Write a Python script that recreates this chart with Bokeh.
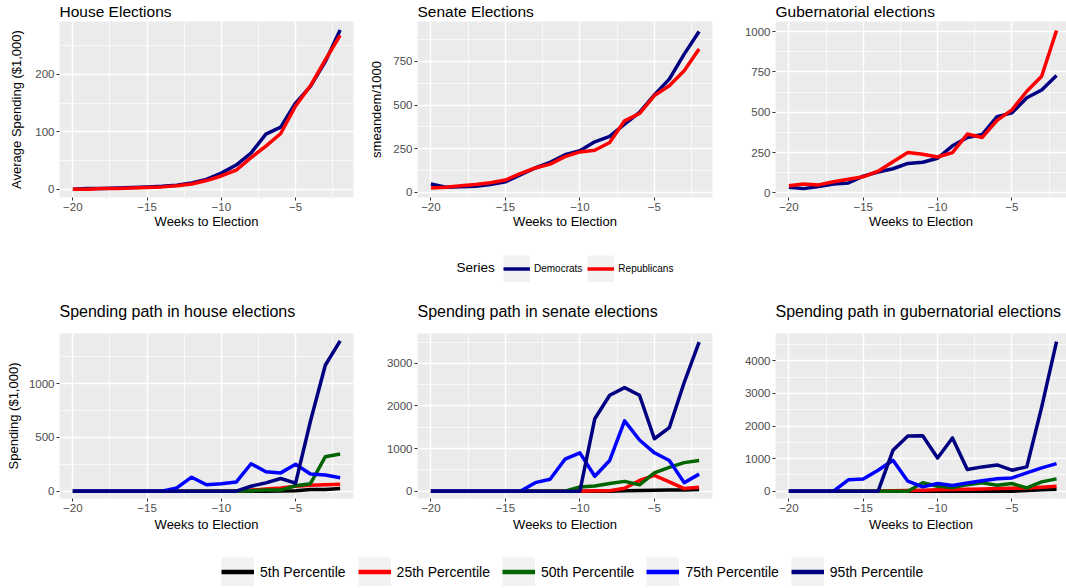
from bokeh.plotting import figure
from bokeh.layouts import column, row
from bokeh.models import Range1d, FixedTicker, Legend, LegendItem, Label
from bokeh.embed import file_html
from bokeh.resources import INLINE

# ---------------- data ----------------
weeks = [-20, -19, -18, -17, -16, -15, -14, -13, -12, -11, -10, -9, -8, -7, -6, -5, -4, -3, -2]

house_dem = [0, 1, 1, 2, 3, 4, 5, 7, 11, 17, 28, 42, 63, 96, 108, 150, 179, 222, 277]
house_rep = [0, 0, 1, 1, 2, 3, 4, 6, 9, 15, 23, 33, 55, 75, 97, 145, 180, 225, 268]

senate_dem = [48, 30, 32, 35, 45, 61, 100, 140, 172, 216, 239, 290, 321, 391, 458, 559, 649, 792, 922]
senate_rep = [25, 30, 38, 45, 55, 71, 108, 140, 162, 205, 232, 242, 286, 410, 452, 555, 611, 697, 821]

gub_dem = [35, 27, 40, 55, 62, 104, 130, 150, 183, 190, 215, 292, 344, 362, 473, 496, 590, 638, 727]
gub_rep = [45, 55, 50, 70, 85, 100, 135, 194, 250, 240, 223, 250, 365, 344, 450, 515, 630, 723, 1006]

house_p5 = [0, 0, 0, 0, 0, 0, 0, 0, 0, 0, 0, 0, 0, 0, 2, 5, 15, 15, 25]
house_p25 = [0, 0, 0, 0, 0, 0, 0, 0, 0, 0, 0, 0, 10, 20, 30, 45, 55, 60, 65]
house_p50 = [0, 0, 0, 0, 0, 0, 0, 0, 0, 0, 0, 0, 5, 10, 10, 50, 70, 320, 345]
house_p75 = [0, 0, 0, 0, 0, 0, 0, 30, 130, 60, 70, 85, 255, 180, 170, 250, 160, 150, 125]
house_p95 = [0, 0, 0, 0, 0, 0, 0, 0, 0, 0, 0, 0, 46, 77, 118, 75, 650, 1170, 1396]

senate_p5 = [0, 0, 0, 0, 0, 0, 0, 0, 0, 0, 0, 0, 0, 10, 15, 20, 25, 30, 40]
senate_p25 = [0, 0, 0, 0, 0, 0, 0, 0, 0, 0, 0, 10, 10, 70, 250, 370, 220, 60, 90]
senate_p50 = [0, 0, 0, 0, 0, 0, 0, 0, 0, 0, 100, 120, 180, 230, 150, 430, 560, 670, 720]
senate_p75 = [0, 0, 0, 0, 0, 0, 0, 200, 280, 750, 900, 350, 720, 1650, 1200, 900, 720, 200, 400]
senate_p95 = [0, 0, 0, 0, 0, 0, 0, 0, 0, 0, 0, 1700, 2250, 2430, 2250, 1230, 1490, 2550, 3500]

gub_p5 = [0, 0, 0, 0, 0, 0, 0, 0, 0, 0, 0, 0, 0, 0, 0, 0, 20, 40, 60]
gub_p25 = [0, 0, 0, 0, 0, 0, 0, 10, 20, 30, 40, 50, 60, 70, 80, 90, 100, 120, 150]
gub_p50 = [0, 0, 0, 0, 0, 0, 0, 0, 0, 260, 150, 110, 200, 255, 180, 235, 100, 286, 378]
gub_p75 = [0, 0, 0, 0, 350, 370, 643, 949, 306, 133, 235, 173, 250, 320, 378, 408, 561, 714, 847]
gub_p95 = [0, 0, 0, 0, 0, 0, 0, 1255, 1694, 1700, 1020, 1633, 663, 745, 806, 643, 745, 2582, 4592]

party_labels = ["Democrats", "Republicans"]
party_colors = ["#000080", "#FF0000"]
pct_labels = ["5th Percentile", "25th Percentile", "50th Percentile", "75th Percentile", "95th Percentile"]
pct_colors = ["#000000", "#FF0000", "#006400", "#0000FF", "#000080"]

x_ticks = [-20, -15, -10, -5]
x_minor = [-17.5, -12.5, -7.5, -2.5]

# ---------------- styling helpers ----------------
FONT = "Liberation Sans"
PANEL_BG = "#EBEBEB"
KEY_BG = "#F2F2F2"
LW = 3.5


def make_panel(title, width, height, left, right, top, bottom, xr, yr, yticks, yminor,
               ylabel=None, ylabel_standoff=6, title_size="15.5px", xlabel_standoff=0,
               title_standoff=0):
    p = figure(width=width, height=height, x_range=Range1d(*xr), y_range=Range1d(*yr),
               output_backend="svg", toolbar_location=None, title=title,
               min_border_left=left, min_border_right=right,
               min_border_top=top, min_border_bottom=bottom)
    p.background_fill_color = PANEL_BG
    p.border_fill_color = "white"
    p.outline_line_color = None
    p.title.text_font = FONT
    p.title.text_font_size = title_size
    p.title.text_font_style = "normal"
    p.title.text_color = "black"
    p.title.standoff = title_standoff
    p.title.offset = 0
    p.title.vertical_align = "top"
    for ax, ticks, minor in ((p.xaxis[0], x_ticks, x_minor), (p.yaxis[0], yticks, yminor)):
        ax.ticker = FixedTicker(ticks=ticks, minor_ticks=minor)
        ax.axis_line_color = None
        ax.major_tick_line_color = "#333333"
        ax.major_tick_out = 3
        ax.major_tick_in = 0
        ax.minor_tick_out = 0
        ax.minor_tick_in = 0
        ax.major_label_text_font = FONT
        ax.major_label_text_font_size = "11.5px"
        ax.major_label_text_color = "#4D4D4D"
        ax.major_label_standoff = 2
        ax.axis_label_text_font = FONT
        ax.axis_label_text_font_size = "13px"
        ax.axis_label_text_font_style = "normal"
        ax.axis_label_text_color = "black"
    p.xaxis.axis_label = "Weeks to Election"
    p.xaxis.axis_label_standoff = xlabel_standoff
    if ylabel:
        p.yaxis.axis_label = ylabel
        p.yaxis.axis_label_standoff = ylabel_standoff
    for g in (p.xgrid, p.ygrid):
        g.grid_line_color = "white"
        g.grid_line_width = 1.4
        g.minor_grid_line_color = "white"
        g.minor_grid_line_width = 0.7
    return p


# geometry (page px)
W1, W2, W3 = 360, 355, 351
L1, L2, L3 = 59, 57, 60
R1, R2, R3 = 7, 3, 0
XR12 = (-20.9, -1.1)
XR3 = (-20.9, -1.33)

TOP_H = 232
BOT_H = 245

# --------- top row: party averages ---------
p1 = make_panel("House Elections", W1, TOP_H, L1, R1, 21, 35, XR12, (-14.5, 292),
                [0, 100, 200], [50, 150, 250], ylabel="Average Spending ($1,000)", ylabel_standoff=8)
p2 = make_panel("Senate Elections", W2, TOP_H, L2, R2, 21, 35, XR12, (-29, 979),
                [0, 250, 500, 750], [125, 375, 625, 875], ylabel="smeandem/1000", ylabel_standoff=6)
p3 = make_panel("Gubernatorial elections", W3, TOP_H, L3, R3, 21, 35, XR3, (-28, 1062),
                [0, 250, 500, 750, 1000], [125, 375, 625, 875])

for p, series in ((p1, (house_dem, house_rep)), (p2, (senate_dem, senate_rep)), (p3, (gub_dem, gub_rep))):
    for ys, c in zip(series, party_colors):
        p.line(weeks, ys, line_color=c, line_width=LW, line_join="round")

# --------- bottom row: percentile paths ---------
p4 = make_panel("Spending path in house elections", W1, BOT_H, L1, R1, 43, 37, XR12, (-68, 1465),
                [0, 500, 1000], [250, 750, 1250], ylabel="Spending ($1,000)", ylabel_standoff=5,
                title_size="16px", xlabel_standoff=2, title_standoff=23)
p5 = make_panel("Spending path in senate elections", W2, BOT_H, L2, R2, 43, 37, XR12, (-172, 3700),
                [0, 1000, 2000, 3000], [500, 1500, 2500, 3500],
                title_size="16px", xlabel_standoff=2, title_standoff=23)
p6 = make_panel("Spending path in gubernatorial elections", W3, BOT_H, L3, R3, 43, 37, XR3, (-225, 4840),
                [0, 1000, 2000, 3000, 4000], [500, 1500, 2500, 3500, 4500],
                title_size="16px", xlabel_standoff=2, title_standoff=23)

for p, series in ((p4, (house_p5, house_p25, house_p50, house_p75, house_p95)),
                  (p5, (senate_p5, senate_p25, senate_p50, senate_p75, senate_p95)),
                  (p6, (gub_p5, gub_p25, gub_p50, gub_p75, gub_p95))):
    for ys, c in zip(series, pct_colors):
        p.line(weeks, ys, line_color=c, line_width=LW, line_join="round")


# --------- legends ---------
def legend_fig(h):
    f = figure(width=W1 + W2 + W3, height=h, output_backend="svg", toolbar_location=None,
               x_axis_type=None, y_axis_type=None, min_border=0,
               x_range=Range1d(0, 1), y_range=Range1d(0, 1))
    f.outline_line_color = None
    f.background_fill_color = "white"
    f.border_fill_color = "white"
    return f


# off-screen placeholder geometry so legend keys have something to draw from
hidden_x = [-10, -9]
hidden_y = [-10, -10]


def legend_items(f, labels, colors, key_h, lw):
    items = []
    for lab, c in zip(labels, colors):
        bg = f.line(hidden_x, hidden_y, line_color=KEY_BG, line_width=key_h)  # grey key box
        r = f.line(hidden_x, hidden_y, line_color=c, line_width=lw)
        items.append(LegendItem(label=lab, renderers=[bg, r]))
    return items


lg1 = legend_fig(58)
leg1 = Legend(items=legend_items(lg1, party_labels, party_colors, 27, 3.5),
              orientation="horizontal", location=(503, 8),
              glyph_width=27, glyph_height=27, label_standoff=4, spacing=5,
              padding=0, margin=0, border_line_color=None, background_fill_alpha=0,
              label_text_font=FONT, label_text_font_size="10px", label_text_color="black")
lg1.add_layout(leg1)
lg1.add_layout(Label(x=456, y=23, x_units="screen", y_units="screen", text="Series",
                     text_font=FONT, text_font_size="13.5px", text_baseline="middle",
                     text_color="black"))

lg2 = legend_fig(52)
leg2 = Legend(items=legend_items(lg2, pct_labels, pct_colors, 29, 4.5),
              orientation="horizontal", location=(221, 1),
              glyph_width=33, glyph_height=29, label_standoff=6, spacing=12,
              padding=0, margin=0, border_line_color=None, background_fill_alpha=0,
              label_text_font=FONT, label_text_font_size="14px", label_text_color="black")
lg2.add_layout(leg2)

layout = column(row(p1, p2, p3), lg1, row(p4, p5, p6), lg2)

open("out.html", "w").write(file_html(layout, INLINE))
